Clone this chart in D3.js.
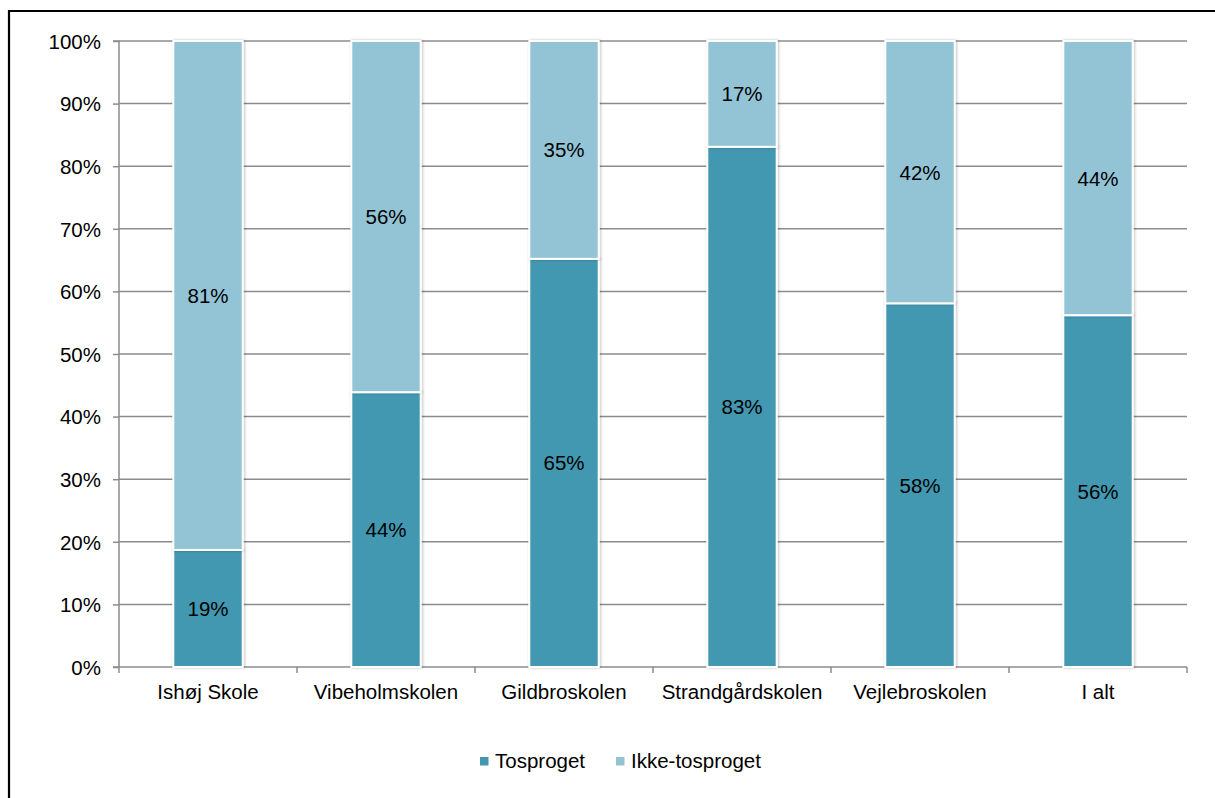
<!DOCTYPE html>
<html><head><meta charset="utf-8">
<script src="https://cdn.jsdelivr.net/npm/d3@7"></script>
<style>body{margin:0;background:#fff}svg{display:block;font-family:"Liberation Sans",Arial,sans-serif}</style>
</head><body><svg id="c" width="1215" height="798"></svg>
<script>
const categories = ["Ishøj Skole","Vibeholmskolen","Gildbroskolen","Strandgårdskolen","Vejlebroskolen","I alt"];
const tosproget = [18.7, 43.9, 65.2, 83.1, 58.1, 56.2];
const ikkeTosproget = [81.3, 56.1, 34.8, 16.9, 41.9, 43.8];
const labelsTo = ["19%","44%","65%","83%","58%","56%"];
const labelsIkke = ["81%","56%","35%","17%","42%","44%"];
const yTicks = [0,10,20,30,40,50,60,70,80,90,100];
const seriesNames = ["Tosproget","Ikke-tosproget"];
const colors = ["#4398B0","#93C4D6"];

const FS = 20.5;
const svg = d3.select("#c");
// frame
svg.append("path").attr("d","M9,798 L9,11 L1215,11").attr("fill","none").attr("stroke","#000").attr("stroke-width",2.2);

const x = d3.scaleBand().domain(categories).range([119,1187]).paddingInner(0.61).paddingOuter(0.305);
const xb = d3.scaleBand().domain(categories).range([119,1187]);
const y = d3.scaleLinear().domain([0,100]).range([667,41]);

// grid
svg.append("g").selectAll("line").data(yTicks.filter(d=>d>0)).join("line")
  .attr("x1",119).attr("x2",1187).attr("y1",d=>y(d)).attr("y2",d=>y(d))
  .attr("stroke","#8c8c8c").attr("stroke-width",1.5);

// y axis
const ya = svg.append("g").attr("transform","translate(119,0)")
  .call(d3.axisLeft(y).tickValues(yTicks).tickFormat(d=>d+"%").tickSize(6).tickPadding(12));
ya.select(".domain").attr("stroke","#8c8c8c").attr("stroke-width",1.5).attr("d","M-6,"+y(0)+"H0V"+y(100)+"H-6");
ya.selectAll(".tick line").attr("stroke","#8c8c8c").attr("stroke-width",1.5);
ya.selectAll("text").attr("font-size",FS).attr("fill","#000").attr("font-family","Liberation Sans, Arial").attr("dy","0.36em");

// x axis
const xa = svg.append("g").attr("transform","translate(0,"+y(0)+")");
xa.append("line").attr("x1",119).attr("x2",1187).attr("stroke","#8c8c8c").attr("stroke-width",1.5);
const bounds = categories.map(c=>xb(c)).concat([1187]);
xa.selectAll("line.t").data(bounds).join("line").attr("class","t")
  .attr("x1",d=>d).attr("x2",d=>d).attr("y1",0).attr("y2",6).attr("stroke","#8c8c8c").attr("stroke-width",1.5);
xa.selectAll("text").data(categories).join("text")
  .attr("x",d=>xb(d)+xb.bandwidth()/2).attr("y",32).attr("text-anchor","middle")
  .attr("font-size",FS).attr("fill","#000").text(d=>d);

// shadow filter
const defs = svg.append("defs");
const f = defs.append("filter").attr("id","sh").attr("x","-20%").attr("y","-5%").attr("width","140%").attr("height","110%");
f.append("feGaussianBlur").attr("in","SourceAlpha").attr("stdDeviation",1.5).attr("result","b");
f.append("feOffset").attr("in","b").attr("dx",1).attr("dy",0).attr("result","o");
f.append("feComponentTransfer").attr("in","o").attr("result","o2").append("feFuncA").attr("type","linear").attr("slope",0.25);
const m = f.append("feMerge"); m.append("feMergeNode").attr("in","o2"); m.append("feMergeNode").attr("in","SourceGraphic");

const rows = categories.map((c,i)=>({cat:c, Tosproget:tosproget[i], "Ikke-tosproget":ikkeTosproget[i], l0:labelsTo[i], l1:labelsIkke[i]}));
const stack = d3.stack().keys(seriesNames)(rows);

const bars = svg.append("g");
stack.forEach((s,si)=>{
  bars.append("g").selectAll("rect").data(s).join("rect")
    .attr("x",d=>x(d.data.cat)).attr("width",x.bandwidth())
    .attr("y",d=>y(d[1])).attr("height",d=>y(d[0])-y(d[1]))
    .attr("fill",colors[si]).attr("stroke","#fff").attr("stroke-width",2).attr("filter","url(#sh)");
});
stack.forEach((s,si)=>{
  svg.append("g").selectAll("text").data(s).join("text")
    .attr("x",d=>x(d.data.cat)+x.bandwidth()/2)
    .attr("y",d=>(y(d[0])+y(d[1]))/2+7.5)
    .attr("text-anchor","middle").attr("font-size",FS).attr("fill","#000")
    .text(d=>si===0?d.data.l0:d.data.l1);
});

// legend
const lg = svg.append("g");
const lx = [480, 616];
seriesNames.forEach((n,i)=>{
  lg.append("rect").attr("x",lx[i]).attr("y",757).attr("width",8.5).attr("height",8.5).attr("fill",colors[i]);
  lg.append("text").attr("x",lx[i]+15).attr("y",768).attr("font-size",FS).attr("fill","#000").text(n);
});
</script></body></html>
